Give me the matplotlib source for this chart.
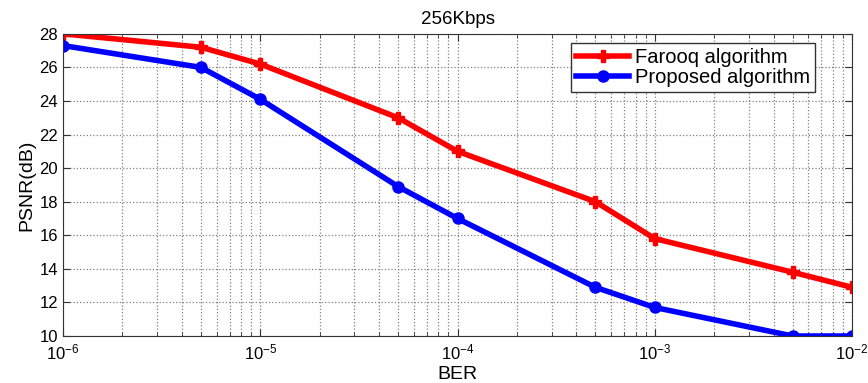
import numpy as np
import matplotlib
matplotlib.use("Agg")
import matplotlib.pyplot as plt
from matplotlib.ticker import LogLocator, NullFormatter, MultipleLocator

plt.rcParams['font.family'] = ['Liberation Sans', 'DejaVu Sans']
plt.rcParams['mathtext.fontset'] = 'custom'
plt.rcParams['mathtext.rm'] = 'Liberation Sans'

# Dados
ber = [1e-6, 5e-6, 1e-5, 5e-5, 1e-4, 5e-4, 1e-3, 5e-3, 1e-2]
psnr_farooq = [28.0, 27.2, 26.2, 23.0, 21.0, 18.0, 15.8, 13.8, 12.9]
psnr_proposed = [27.3, 26.0, 24.1, 18.9, 17.0, 12.9, 11.7, 10.0, 10.0]
labels = ["Farooq algorithm", "Proposed algorithm"]

fig = plt.figure(figsize=(8.68, 3.83), dpi=100)
ax = fig.add_axes([0.0726, 0.1227, 0.909, 0.789])

ax.semilogx(ber, psnr_farooq, color='red', lw=4, marker='P', ms=9, label=labels[0])
ax.semilogx(ber, psnr_proposed, color='blue', lw=4, marker='o', ms=8, label=labels[1])

ax.set_xlim(1e-6, 1e-2)
ax.set_ylim(10, 28)
ax.yaxis.set_major_locator(MultipleLocator(2))
ax.xaxis.set_major_locator(LogLocator(base=10, numticks=10))
ax.xaxis.set_minor_locator(LogLocator(base=10, subs=np.arange(2, 10), numticks=10))
ax.xaxis.set_minor_formatter(NullFormatter())

ax.grid(True, which='major', axis='both', linestyle=':', color='#808080', lw=0.9)
ax.grid(True, which='minor', axis='x', linestyle=':', color='#808080', lw=0.9)
ax.tick_params(which='both', direction='in', top=True, right=True, labelsize=12, color='#333333')
ax.tick_params(which='major', length=5)
ax.tick_params(which='minor', length=3)
ax.tick_params(axis='x', pad=5)
for s in ax.spines.values():
    s.set_color('#333333')

ax.set_xlabel("BER", fontsize=14, labelpad=2)
ax.set_ylabel("PSNR(dB)", fontsize=14, labelpad=3)
ax.set_title("256Kbps", fontsize=13.5, pad=7)

leg = ax.legend(loc='upper right', bbox_to_anchor=(0.953, 0.97), fontsize=14.5,
                fancybox=False, edgecolor='#333333', framealpha=1, borderaxespad=0,
                handlelength=2.6, borderpad=0.25, labelspacing=0.05, handletextpad=0.3)

fig.savefig("out.png", dpi=100)
